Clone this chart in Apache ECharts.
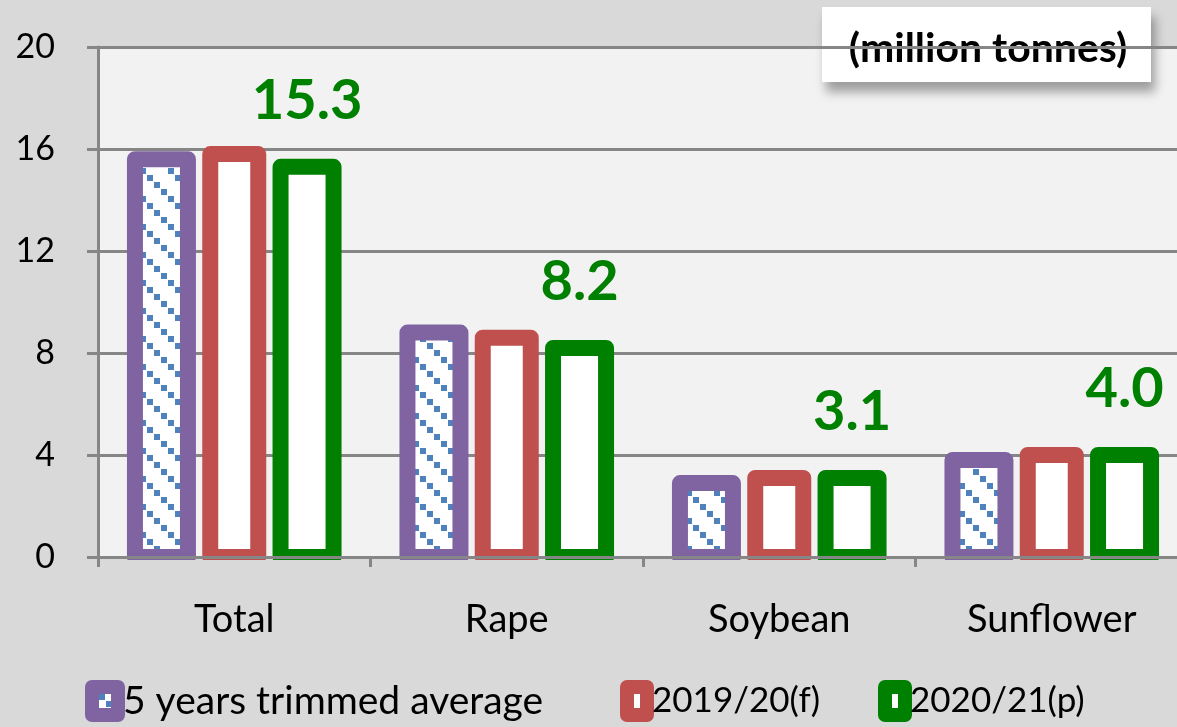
<!DOCTYPE html>
<html>
<head>
<meta charset="utf-8">
<script src="https://cdn.jsdelivr.net/npm/echarts@6/dist/echarts.min.js"></script>
<style>
html,body{margin:0;padding:0;background:#d9d9d9;}
#chart{width:1177px;height:727px;}
</style>
</head>
<body>
<div id="chart"></div>
<script>
const categories = ['Total', 'Rape', 'Soybean', 'Sunflower'];
const seriesNames = ['5 years trimmed average', '2019/20(f)', '2020/21(p)'];
const avg5 = [15.6, 8.8, 2.9, 3.8];
const y2019 = [15.8, 8.6, 3.1, 4.0];
const y2020 = [15.3, 8.2, 3.1, 4.0];
const unitLabel = '(million tonnes)';

const FONT = 'Lato, "Open Sans", sans-serif';

// dotted diagonal pattern for the 5-year average bars
const pc = document.createElement('canvas');
pc.width = 28; pc.height = 28;
const pctx = pc.getContext('2d');
pctx.fillStyle = '#ffffff';
pctx.fillRect(0, 0, 28, 28);
pctx.fillStyle = '#4f81bd';
for (let i = 0; i < 4; i++) {
  pctx.fillRect(i * 7, i * 7, 6, 6);
}
const pattern = { image: pc, repeat: 'repeat' };

const chart = echarts.init(document.getElementById('chart'), null, { renderer: 'canvas' });

function barSeries(name, values, border, fill, offset, width, withLabel) {
  const data = values.map((v, i) => [i, v]);
  return {
    name: name,
    type: 'custom',
    data: data,
    encode: { x: 0, y: 1 },
    itemStyle: { color: fill, borderColor: border, borderWidth: 16 },
    z: 2,
    renderItem: function (params, api) {
      const cat = api.value(0);
      const val = api.value(1);
      const top = api.coord([cat, val]);
      const base = api.coord([cat, 0]);
      const cx = top[0] + offset;
      const children = [{
        type: 'rect',
        shape: { x: cx - width / 2, y: top[1], width: width, height: base[1] - top[1] },
        style: { fill: fill, stroke: border, lineWidth: 16, lineJoin: 'round' }
      }];
      if (withLabel) {
        children.push({
          type: 'text',
          x: cx,
          y: top[1] - 38,
          style: {
            text: val.toFixed(1),
            fill: '#008000',
            fontFamily: FONT,
            fontWeight: 'bold',
            fontSize: 56,
            align: 'center',
            verticalAlign: 'bottom'
          }
        });
      }
      return { type: 'group', children: children };
    }
  };
}

function legendFor(name, left, fontSize, itemWidth) {
  return {
    top: 675,
    left: left,
    icon: 'rect',
    itemWidth: itemWidth,
    itemHeight: 28,
    selectedMode: false,
    data: [name],
    itemStyle: { borderWidth: 14, borderJoin: 'round' },
    textStyle: { fontFamily: FONT, fontSize: fontSize, color: '#000' }
  };
}

const option = {
  backgroundColor: '#d9d9d9',
  animation: false,
  grid: {
    left: 98,
    top: 47,
    width: 1090,
    bottom: 170,
    outerBoundsMode: 'none',
    containLabel: false,
    show: true,
    backgroundColor: '#f2f2f2',
    borderWidth: 0
  },
  legend: [
    legendFor(seriesNames[0], 80, 39, 26),
    legendFor(seriesNames[1], 615, 35, 20),
    legendFor(seriesNames[2], 873, 35, 20)
  ],
  xAxis: {
    type: 'category',
    data: categories,
    z: 6,
    axisLine: { show: true, lineStyle: { color: '#868686', width: 3 } },
    axisTick: { show: true, length: 10, lineStyle: { color: '#868686', width: 3 } },
    axisLabel: { margin: 44, fontFamily: FONT, fontSize: 38, color: '#000' },
    splitLine: { show: false }
  },
  yAxis: {
    type: 'value',
    min: 0,
    max: 20,
    interval: 4,
    axisLine: { show: true, lineStyle: { color: '#868686', width: 3 } },
    axisTick: { show: true, length: 11, lineStyle: { color: '#868686', width: 3 } },
    axisLabel: { margin: 43, fontFamily: FONT, fontSize: 34, color: '#000' },
    splitLine: { show: true, lineStyle: { color: '#868686', width: 3 } }
  },
  series: [
    barSeries(seriesNames[0], avg5, '#8064a2', pattern, -72.8, 53, false),
    barSeries(seriesNames[1], y2019, '#c0504d', '#ffffff', 0, 48, false),
    barSeries(seriesNames[2], y2020, '#008000', '#ffffff', 72.8, 53, true)
  ],
  graphic: [
    {
      type: 'rect',
      z: 4,
      silent: true,
      shape: { x: 60, y: 560, width: 1117, height: 14 },
      style: { fill: '#d9d9d9' }
    },
    {
      type: 'group',
      z: 100,
      children: [
        {
          type: 'rect',
          shape: { x: 822, y: 7, width: 329, height: 75 },
          style: {
            fill: '#ffffff',
            shadowBlur: 10,
            shadowOffsetX: 4,
            shadowOffsetY: 10,
            shadowColor: 'rgba(0,0,0,0.35)'
          }
        },
        {
          type: 'text',
          x: 988,
          y: 49,
          style: {
            text: unitLabel,
            fontFamily: FONT,
            fontWeight: 'bold',
            fontSize: 41,
            fill: '#000',
            align: 'center',
            verticalAlign: 'middle'
          }
        }
      ]
    }
  ]
};

chart.setOption(option);
</script>
</body>
</html>
